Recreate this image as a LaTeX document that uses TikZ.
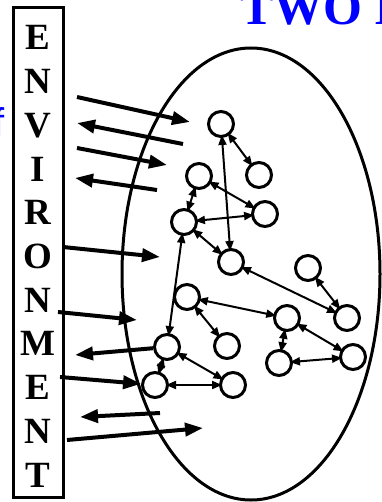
\documentclass[tikz,border=0pt]{standalone}
\usepackage{fontspec}
\setmainfont{Liberation Serif}
\newfontfamily\slidesans{Liberation Sans}
\usetikzlibrary{arrows.meta, positioning, calc}
\definecolor{slideblue}{HTML}{0000FF}

\begin{document}
\begin{tikzpicture}[x=1pt, y=-1pt,
    cell/.style={circle, draw, line width=3pt, minimum size=25pt, inner sep=0pt},
    link/.style={{Triangle[length=10pt,width=8pt]}-{Triangle[length=10pt,width=8pt]}, line width=2pt,
                 shorten <=-3pt, shorten >=-3pt},
    envarrow/.style={-{Triangle[length=18pt,width=13pt]}, line width=4pt},
    letter/.style={font=\fontsize{37}{37}\selectfont\bfseries, inner sep=0pt, anchor=base}]
    \useasboundingbox (0,0) rectangle (381,502);

    % cut-off slide texts
    \node[font=\fontsize{50}{50}\selectfont\bfseries, text=slideblue, anchor=base west, inner sep=0pt] (title) at (240,25) {TWO I};
    \node[font=\slidesans\fontsize{40}{40}\selectfont, text=slideblue, anchor=base west, inner sep=0pt] (tail) at (-7,137) {f};

    % environment column
    \node[draw, line width=3pt, minimum width=50pt, minimum height=489pt, inner sep=0pt] (env) at (38,252.5) {};
    \foreach \l [count=\i from 0] in {E,N,V,I,R,O,N,M,E,N,T}
        \node[letter] (l\i) at (38,50+43.7*\i) {\l};

    % system boundary
    \draw[line width=3pt] (251,274) ellipse [x radius=129, y radius=226];

    % elements
    \foreach \i/\x/\y in {1/221/124, 2/259/175, 3/199/176, 4/265/214, 5/184/222, 6/231/262,
                          7/308/268, 8/187/297, 9/347/318, 10/287/318, 11/227/346, 12/167/347,
                          13/279/363, 14/353/357, 15/155/385, 16/233/385}
        \node[cell] (c\i) at (\x,\y) {};

    \foreach \a/\b in {1/6, 1/2, 3/5, 3/4, 5/4, 5/6, 5/12, 6/9, 7/9, 8/10, 8/11,
                       12/16, 12/15, 15/16, 10/13, 10/14, 13/14}
        \draw[link] (c\a) -- (c\b);

    % exchanges with the environment
    \foreach \i/\sx/\sy/\tx/\ty in {1/77/97/190/122, 2/183/144/77/123, 3/77/148/167/165,
                                    4/157/190/75/178, 5/63/247/160/257, 6/58/312/137/320,
                                    9/160/413/80/417, 10/67/440/203/428} {
        \coordinate (s\i) at (\sx,\sy);
        \coordinate (t\i) at (\tx,\ty);
        \draw[envarrow] (s\i) -- (t\i);
    }
    \coordinate (t7) at (75,355);
    \coordinate (s8) at (60,377);
    \draw[envarrow] (c12) -- (t7);
    \draw[envarrow] (s8) -- (c15);
\end{tikzpicture}
\end{document}
